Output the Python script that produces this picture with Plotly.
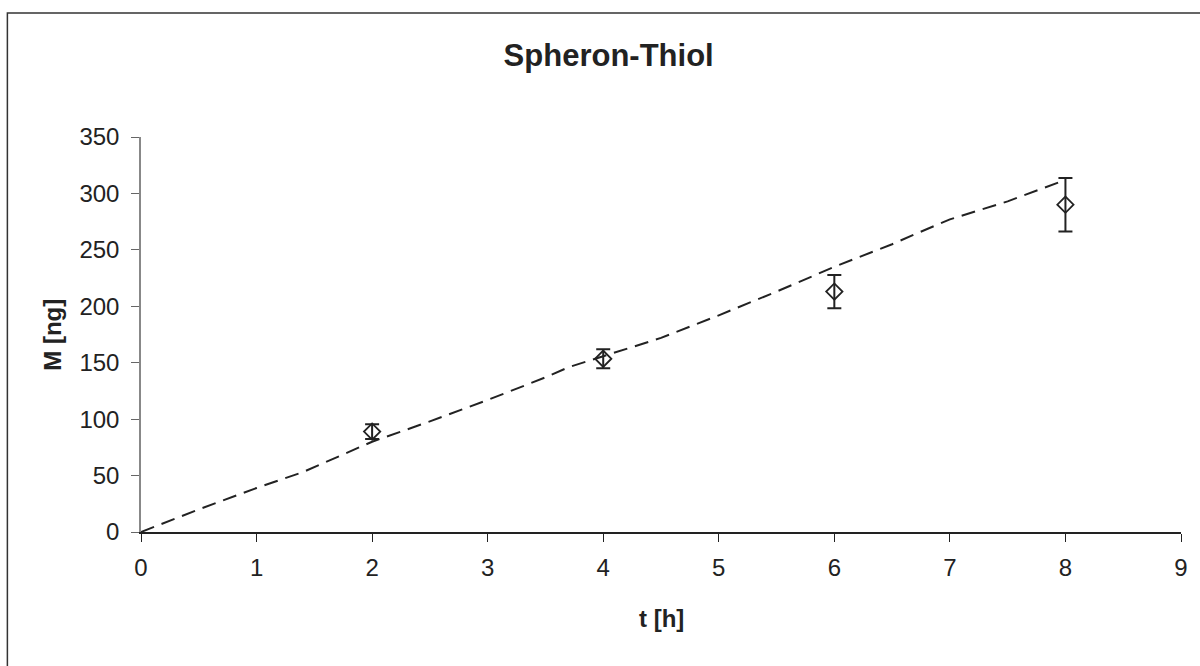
import plotly.graph_objects as go

# measured data
t_meas = [2, 4, 6, 8]
m_meas = [89, 153.5, 213, 290]
m_err = [6.5, 8.5, 14.7, 23.7]

# model curve (dashed)
t_model = [0, 0.5, 1.0, 1.4, 2.0, 2.5, 3.0, 3.5, 3.7, 4.0, 4.5, 5.0, 5.5, 6.0, 6.5, 6.7, 7.0, 7.5, 8.0]
m_model = [0, 20, 39, 53, 80, 98, 117, 137, 146, 156, 172, 192, 213, 235, 255, 264, 277, 293, 312]

x_ticks = list(range(0, 10))
y_ticks = list(range(0, 351, 50))

FONT = "Liberation Sans, Arial, sans-serif"
INK = "#222222"

fig = go.Figure()
fig.add_trace(go.Scatter(
    x=t_model, y=m_model, mode="lines",
    line=dict(color=INK, width=2, dash="14px,8px"),
    showlegend=False, hoverinfo="skip"))
fig.add_trace(go.Scatter(
    x=t_meas, y=m_meas, mode="markers",
    marker=dict(symbol="diamond-open", size=12.5, color=INK, line=dict(width=1.8, color=INK)),
    error_y=dict(type="data", array=m_err, visible=True, color=INK, thickness=2, width=7),
    showlegend=False))

W, H = 1200, 666
L, R, T, B = 141, 16, 137, 134
pw, ph = W - L - R, H - T - B

def px_x(p):
    return (p - L) / pw

def px_y(p):
    return (H - B - p) / ph

fig.update_layout(
    width=W, height=H,
    margin=dict(l=L, r=R, t=T, b=B),
    paper_bgcolor="white", plot_bgcolor="white",
    font=dict(family=FONT, color=INK, size=24),
    title=dict(text="<b>Spheron-Thiol</b>", x=px_x(610), xref="paper",
               y=1 - 55 / H, yref="container", yanchor="middle", xanchor="center",
               font=dict(size=31, family=FONT, color=INK)),
    xaxis=dict(range=[0, 9], tickvals=x_ticks, ticktext=[str(v) for v in x_ticks],
               showgrid=False, zeroline=False, showline=True, linecolor=INK, linewidth=1.5,
               ticks="outside", ticklen=8, tickwidth=1.3, tickcolor=INK,
               ticklabelstandoff=5,
               tickfont=dict(size=24, family=FONT, color=INK)),
    yaxis=dict(range=[0, 350], tickvals=y_ticks, ticktext=[str(v) for v in y_ticks],
               showgrid=False, zeroline=False, showline=True, linecolor="#888888", linewidth=1.5,
               ticks="outside", ticklen=8, tickwidth=1.3, tickcolor="#666666",
               ticklabelstandoff=7,
               tickfont=dict(size=24, family=FONT, color=INK)),
    annotations=[
        dict(text="<b>t [h]</b>", xref="paper", yref="paper", x=0.5, y=px_y(618),
             xanchor="center", yanchor="middle", showarrow=False,
             font=dict(size=24, family=FONT, color=INK)),
        dict(text="<b>M [ng]</b>", xref="paper", yref="paper", x=px_x(52), y=0.5,
             xanchor="center", yanchor="middle", showarrow=False, textangle=-90,
             font=dict(size=24, family=FONT, color=INK)),
    ],
    shapes=[
        dict(type="rect", xref="paper", yref="paper",
             x0=px_x(7), x1=px_x(1210), y0=px_y(680), y1=px_y(13),
             line=dict(color="#333333", width=1.5), fillcolor="rgba(0,0,0,0)", layer="below"),
    ],
)

fig.write_html("out.html", config={"displayModeBar": False},
               post_script="document.body.style.margin='0';document.body.style.overflow='hidden';")
